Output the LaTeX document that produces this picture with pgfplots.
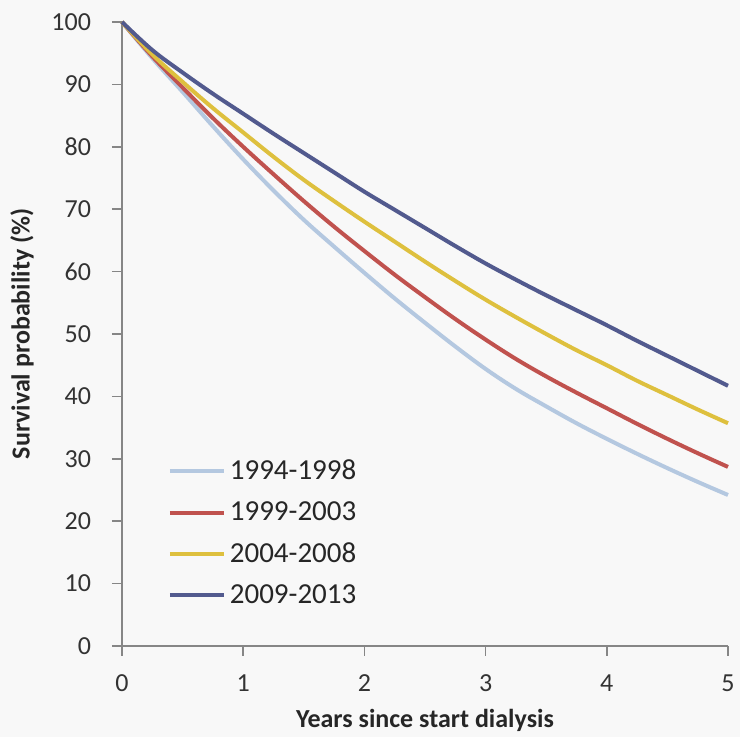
\documentclass[border=0pt]{standalone}
\usepackage{fontspec}
\setmainfont{Carlito}
\usepackage{pgfplots}
\pgfplotsset{compat=1.18}
\definecolor{cLight}{RGB}{180,200,224}
\definecolor{cRed}{RGB}{192,82,78}
\definecolor{cYel}{RGB}{222,192,62}
\definecolor{cBlue}{RGB}{82,90,142}
\definecolor{cAxis}{RGB}{134,134,134}
\definecolor{cBg}{RGB}{248,248,248}
\begin{document}
\begin{tikzpicture}
\fill[cBg] (-61pt,-45.5pt) rectangle (309pt,323pt);
\begin{axis}[
  at={(0,0)}, anchor=south west,
  width=303pt, height=312pt, scale only axis,
  xmin=0, xmax=5, ymin=0, ymax=100,
  xtick={0,1,2,3,4,5}, ytick={0,10,...,100},
  axis lines=left, axis line style={cAxis, line width=0.8pt, -},
  tick style={cAxis, line width=0.8pt}, tick align=outside,
  major tick length=5pt,
  font=\fontsize{13}{15}\selectfont,
  /pgf/number format/assume math mode=true,
  ticklabel style={text=black!80},
  yticklabel style={xshift=-7pt},
  xticklabel style={yshift=-6pt},
  xlabel={\bfseries Years since start dialysis},
  ylabel={\bfseries Survival probability (\%)},
  xlabel style={at={(axis description cs:0.5,-0.119)}, anchor=center, text=black!85},
  ylabel style={at={(axis description cs:-0.165,0.5)}, anchor=center, text=black!85},
  legend style={draw=none, fill=none, at={(axis description cs:0.075,0.305)}, anchor=north west,
    row sep=5.5pt, inner sep=0pt, font=\fontsize{14.5}{15}\selectfont, text=black!85},
  legend cell align=left,
  legend image code/.code={\draw[#1, line width=2pt] (0pt,0pt) -- (27pt,0pt);},
  every axis plot/.append style={line width=2pt, smooth, tension=0.6},
  clip=false,
]
\addplot[cLight] coordinates {(0,100)(0.25,94.2)(0.5,88.8)(0.75,83.3)(1,78)(1.25,73)(1.5,68.3)(1.75,64)(2,59.8)(2.25,55.7)(2.5,51.8)(2.75,48)(3,44.4)(3.25,41.2)(3.5,38.4)(3.75,35.7)(4,33.2)(4.25,30.8)(4.5,28.5)(4.75,26.3)(5,24.2)};
\addlegendentry{1994-1998}
\addplot[cRed] coordinates {(0,100)(0.25,94.5)(0.5,89.5)(0.75,84.6)(1,80)(1.25,75.6)(1.5,71.3)(1.75,67.2)(2,63.3)(2.25,59.5)(2.5,55.9)(2.75,52.4)(3,49.1)(3.25,46)(3.5,43.2)(3.75,40.6)(4,38.1)(4.25,35.6)(4.5,33.2)(4.75,30.9)(5,28.7)};
\addlegendentry{1999-2003}
\addplot[cYel] coordinates {(0,100)(0.25,94.8)(0.5,90.4)(0.75,86.2)(1,82.3)(1.25,78.4)(1.5,74.7)(1.75,71.3)(2,68)(2.25,64.8)(2.5,61.6)(2.75,58.5)(3,55.5)(3.25,52.7)(3.5,50)(3.75,47.4)(4,45)(4.25,42.5)(4.5,40.2)(4.75,37.9)(5,35.7)};
\addlegendentry{2004-2008}
\addplot[cBlue] coordinates {(0,100)(0.25,95.5)(0.5,91.9)(0.75,88.5)(1,85.3)(1.25,82.1)(1.5,79)(1.75,75.9)(2,72.8)(2.25,69.9)(2.5,67)(2.75,64.1)(3,61.3)(3.25,58.7)(3.5,56.2)(3.75,53.8)(4,51.4)(4.25,48.9)(4.5,46.5)(4.75,44.1)(5,41.7)};
\addlegendentry{2009-2013}
\end{axis}
\pgfresetboundingbox
\path (-61pt,-45.5pt) rectangle (309pt,323pt);
\end{tikzpicture}
\end{document}
